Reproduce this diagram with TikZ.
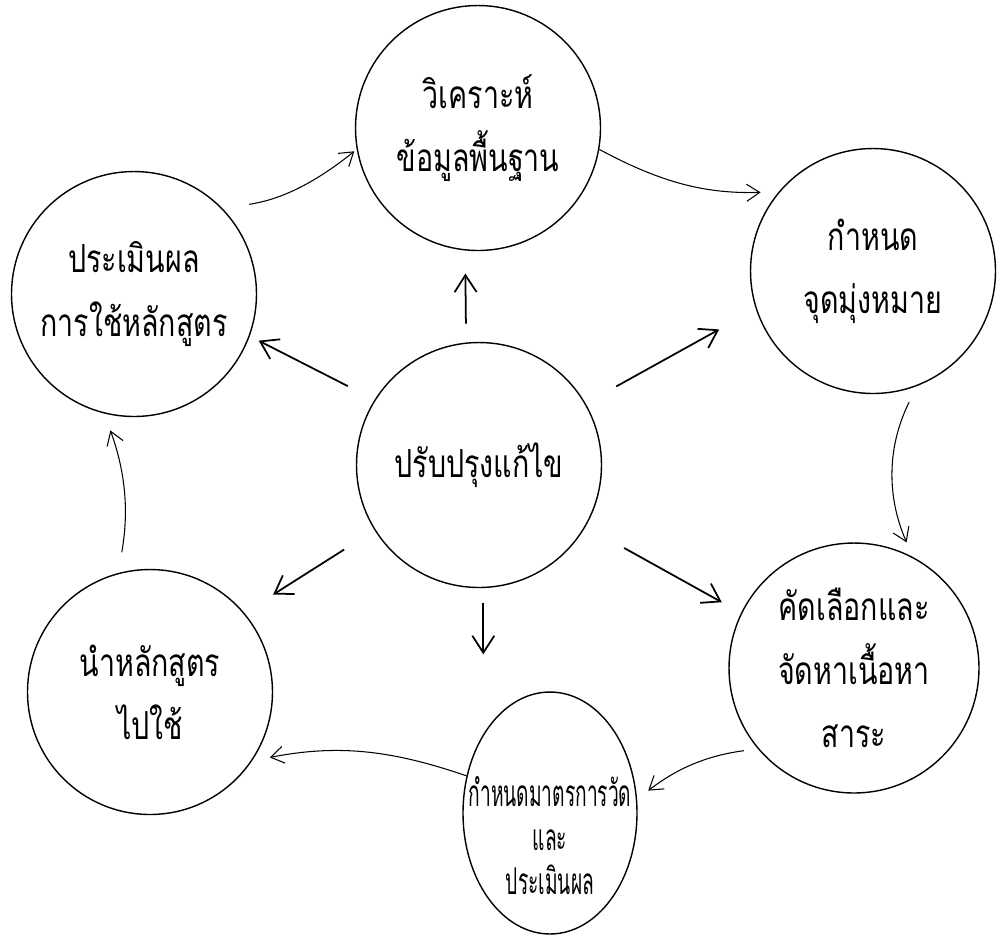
\documentclass[tikz,border=0pt]{standalone}
\usepackage{fontspec}
\newfontfamily\thaifont[Script=Thai, FakeStretch=0.74]{Loma}
\newfontfamily\thainarrow[Script=Thai, FakeStretch=0.52]{Loma}
\usetikzlibrary{arrows.meta,shapes.geometric}

\begin{document}
\begin{tikzpicture}[
    x=0.02cm, y=-0.02cm,
    stage/.style={draw, circle, line width=0.8pt, minimum size=4.9cm, inner sep=0pt, align=center, font=\thaifont\fontsize{22}{36}\selectfont},
    cycle/.style={-{Straight Barb[length=2.6mm,width=3.4mm]}, line width=0.6pt, bend right=15},
    spoke/.style={-{Straight Barb[length=3.4mm,width=4.4mm]}, line width=1pt}
  ]
  \useasboundingbox (0,0) rectangle (1001,941);

  % Stages
  \node[stage] (analyse) at (478,128) {วิเคราะห์\\ข้อมูลพื้นฐาน};
  \node[stage] (goal) at (873,271) {กำหนด\\จุดมุ่งหมาย};
  \node[stage, minimum size=5cm] (content) at (854,668) {คัดเลือกและ\\จัดหาเนื้อหา\\สาระ};
  \node[stage, ellipse, minimum size=0pt, minimum width=3.48cm, minimum height=4.84cm, font=\thainarrow\fontsize{21}{25}\selectfont] (measure) at (550,813)
    {\makebox[0pt]{\raisebox{-0.75cm}[0pt][0pt]{\begin{tabular}{@{}c@{}}กำหนดมาตรการวัด\\และ\\ประเมินผล\end{tabular}}}};
  \node[stage] (implement) at (150,692) {นำหลักสูตร\\ไปใช้};
  \node[stage] (evaluate) at (134,294) {ประเมินผล\\การใช้หลักสูตร};
  \node[stage] (revise) at (479,465) {ปรับปรุงแก้ไข};

  % Cycle
  \draw[cycle, shorten >=3.6mm] (analyse.-10) to (goal.140);
  \draw[cycle, bend right=25, shorten <=3.6mm, shorten >=3.2mm] (goal.-69) to (content.62);
  \draw[cycle, shorten <=2.8mm, shorten >=2.8mm] (content.220) to (measure.9);
  \draw[cycle, shorten >=3.6mm] (measure.156) to (implement.-34);
  \draw[cycle, shorten <=4.2mm, shorten >=3.6mm] (implement.105) to (evaluate.256);
  \draw[cycle, shorten <=5.4mm, shorten >=0.6mm] (evaluate.44) to (analyse.190);

  % Spokes
  \draw[spoke, shorten <=3.8mm, shorten >=4.6mm] (revise.96.5) -- (analyse.264);
  \draw[spoke, shorten <=7mm, shorten >=8.4mm] (revise.30) -- (goal.198);
  \draw[spoke, shorten <=8.8mm, shorten >=4.4mm] (revise.-30) -- (content.154);
  \draw[spoke, shorten <=3mm, shorten >=7.4mm] (revise.-88) -- (revise.-88 |- measure.north);
  \draw[spoke, shorten <=7.2mm, shorten >=6.8mm] (revise.212) -- (implement.40);
  \draw[spoke, shorten <=6mm, shorten >=2mm] (revise.148) -- (evaluate.-20);
\end{tikzpicture}
\end{document}
